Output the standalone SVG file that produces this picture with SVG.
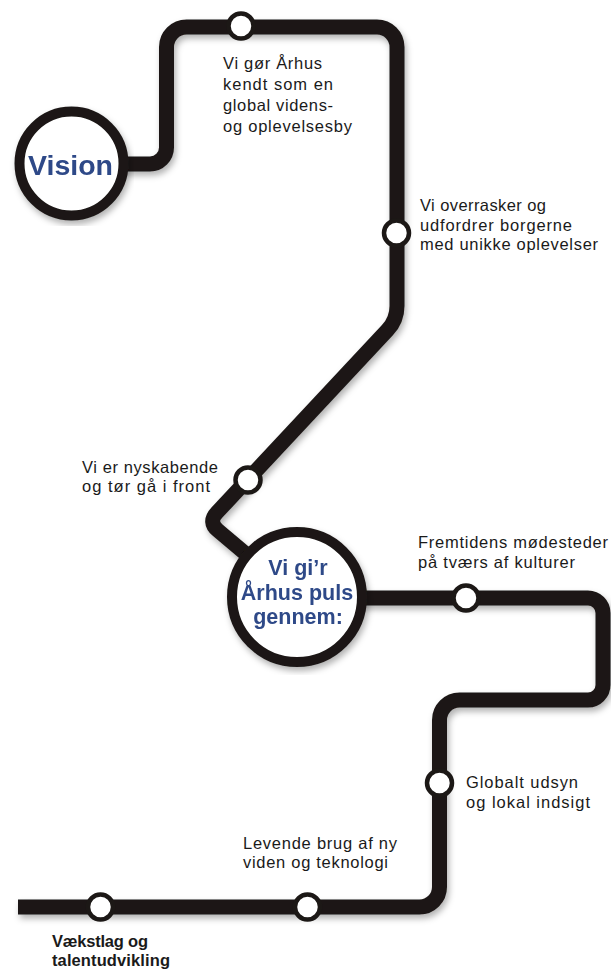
<svg xmlns="http://www.w3.org/2000/svg" width="611" height="970" viewBox="0 0 611 970">
<defs>
<filter id="sh" x="-10%" y="-10%" width="120%" height="120%">
<feDropShadow dx="2" dy="4" stdDeviation="3" flood-color="#000" flood-opacity="0.3"/>
</filter>
<style>
.track{fill:none;stroke:#1c1816;stroke-width:15;stroke-linecap:butt;stroke-linejoin:round}
.big{fill:#fff;stroke:#1c1816;stroke-width:10}
.stop{fill:#fff;stroke:#1c1816;stroke-width:4.5}
.lbl{font-family:"Liberation Sans",Arial,sans-serif;font-size:16.5px;fill:#1a1a1a}
.lblb{font-family:"Liberation Sans",Arial,sans-serif;font-size:16.5px;font-weight:bold;fill:#1a1a1a}
.head{font-family:"Liberation Sans",Arial,sans-serif;font-weight:bold;fill:#2f4a88;text-anchor:middle}
</style>
</defs>
<rect width="611" height="970" fill="#fff"/>
<g id="connectors" filter="url(#sh)">
<path class="track" d="M 71 164 H 150 A 16.5 16.5 0 0 0 166.5 147.5 V 47 A 20 20 0 0 1 186.5 27 H 377 A 20 20 0 0 1 397 47 V 306 Q 397 320 387.4 330.2 L 216.9 512.5 Q 208 522 217.9 530.4 L 297 597"/>
<path class="track" d="M 297 598 H 588 A 15 15 0 0 1 603 613 V 685 A 15 15 0 0 1 588 700 H 459.5 A 20 20 0 0 0 439.5 720 V 887 A 20 20 0 0 1 419.5 907 H 18"/>
</g>
<g id="vision" filter="url(#sh)">
<circle class="big" cx="71.5" cy="163.5" r="52"/>
<text class="head" x="70.5" y="175" font-size="28.5">Vision</text>
</g>
<g id="pulse" filter="url(#sh)">
<circle class="big" cx="297" cy="597" r="65"/>
<text class="head" x="298" y="575" font-size="21.5">Vi gi’r</text>
<text class="head" x="297" y="600" font-size="21.5">Århus puls</text>
<text class="head" x="298" y="624" font-size="21.5">gennem:</text>
</g>
<g id="stop-global">
<circle class="stop" cx="241" cy="26" r="12.5"/>
<text class="lbl" x="223" y="69" textLength="99">Vi gør Århus</text>
<text class="lbl" x="223" y="90" textLength="110">kendt som en</text>
<text class="lbl" x="223" y="111" textLength="110">global videns-</text>
<text class="lbl" x="223" y="132" textLength="129">og oplevelsesby</text>
</g>
<g id="stop-overrasker">
<circle class="stop" cx="396.5" cy="233" r="12.5"/>
<text class="lbl" x="420" y="211" textLength="126">Vi overrasker og</text>
<text class="lbl" x="420" y="231" textLength="152">udfordrer borgerne</text>
<text class="lbl" x="420" y="250" textLength="178">med unikke oplevelser</text>
</g>
<g id="stop-nyskabende">
<circle class="stop" cx="248" cy="480" r="12.5"/>
<text class="lbl" x="82" y="473" textLength="136">Vi er nyskabende</text>
<text class="lbl" x="82" y="492" textLength="128">og tør gå i front</text>
</g>
<g id="stop-moedesteder">
<circle class="stop" cx="466" cy="598" r="12.5"/>
<text class="lbl" x="418" y="548" textLength="190">Fremtidens mødesteder</text>
<text class="lbl" x="418" y="568" textLength="157">på tværs af kulturer</text>
</g>
<g id="stop-udsyn">
<circle class="stop" cx="439.5" cy="783" r="12.5"/>
<text class="lbl" x="466" y="788" textLength="112">Globalt udsyn</text>
<text class="lbl" x="466" y="808" textLength="124">og lokal indsigt</text>
</g>
<g id="stop-teknologi">
<circle class="stop" cx="307.5" cy="907" r="12.5"/>
<text class="lbl" x="243" y="849" textLength="154">Levende brug af ny</text>
<text class="lbl" x="243" y="868" textLength="145">viden og teknologi</text>
</g>
<g id="stop-vaekstlag">
<circle class="stop" cx="100.5" cy="907" r="12.5"/>
<text class="lblb" x="52" y="947" textLength="96">Vækstlag og</text>
<text class="lblb" x="52" y="966" textLength="118">talentudvikling</text>
</g>
</svg>
